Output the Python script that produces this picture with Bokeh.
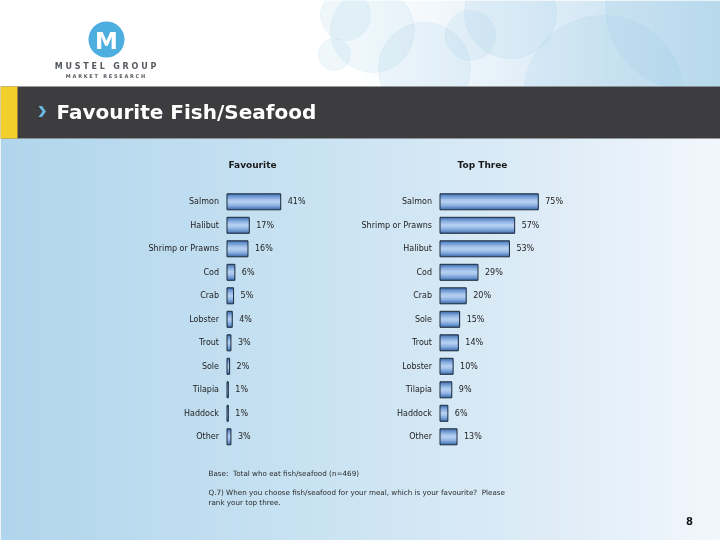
from bokeh.plotting import figure
from bokeh.models import Range1d, ColumnDataSource
from bokeh.core.properties import value
from bokeh.embed import file_html
from bokeh.resources import INLINE

# ---------------- data ----------------
fav_cats = ["Salmon", "Halibut", "Shrimp or Prawns", "Cod", "Crab", "Lobster",
            "Trout", "Sole", "Tilapia", "Haddock", "Other"]
fav_vals = [41, 17, 16, 6, 5, 4, 3, 2, 1, 1, 3]

top_cats = ["Salmon", "Shrimp or Prawns", "Halibut", "Cod", "Crab", "Sole",
            "Trout", "Lobster", "Tilapia", "Haddock", "Other"]
top_vals = [75, 57, 53, 29, 20, 15, 14, 10, 9, 6, 13]

NB = "\u00a0"
panel_titles = ["Favourite", "Top Three"]
slide_title = "Favourite Fish/Seafood"
base_note = "Base:" + NB + NB + "Total who eat fish/seafood (n=469)"
question_lines = ["Q.7) When you choose fish/seafood for your meal, which is your favourite?" + NB + NB + "Please",
                  "rank your top three."]
page_no = "8"
brand = NB.join("MUSTEL") + NB * 3 + NB.join("GROUP")
brand_sub = NB.join("MARKET") + NB * 3 + NB.join("RESEARCH")

# ---------------- layout constants ----------------
W, H = 720, 540
PX_PER_PCT = 1.31
FAV_ZERO = 226.5
TOP_ZERO = 439.5
ROW0 = 201.3
ROW_STEP = 23.5
BAR_PX = 16.0
FONT = value("DejaVu Sans")

p = figure(width=W, height=H, x_range=Range1d(0, W), y_range=Range1d(H, 0),
           output_backend="svg", toolbar_location=None, min_border=0,
           x_axis_location=None, y_axis_location=None)
p.grid.visible = False
p.outline_line_color = None
p.background_fill_color = "white"
p.border_fill_color = "white"
p.styles = {"position": "fixed", "left": "0px", "top": "0px"}

p.extra_x_ranges = {
    "fav": Range1d(-FAV_ZERO / PX_PER_PCT, (W - FAV_ZERO) / PX_PER_PCT),
    "top": Range1d(-TOP_ZERO / PX_PER_PCT, (W - TOP_ZERO) / PX_PER_PCT),
}
p.extra_y_ranges = {"rows": Range1d((H - ROW0) / ROW_STEP, -ROW0 / ROW_STEP)}


def lerp_color(stops, x):
    for (x0, c0), (x1, c1) in zip(stops[:-1], stops[1:]):
        if x0 <= x <= x1:
            t = (x - x0) / (x1 - x0) if x1 > x0 else 0
            c = [round(a + (b - a) * t) for a, b in zip(c0, c1)]
            return "#%02x%02x%02x" % tuple(c)
    c = stops[-1][1]
    return "#%02x%02x%02x" % tuple(c)


STEP = 6
xs = list(range(0, W + STEP, STEP))

# ---------------- header background ----------------
head_stops = [(0, (255, 255, 255)), (360, (255, 255, 255)), (480, (234, 243, 250)),
              (600, (212, 231, 244)), (720, (190, 220, 238))]
hc = [lerp_color(head_stops, x + STEP / 2) for x in xs[:-1]]
p.quad(left=xs[:-1], right=[x + STEP + 1 for x in xs[:-1]], top=0, bottom=86,
       fill_color=hc, line_color=None)

circles = [(345, 15, 25), (334, 54, 16), (372, 30, 42), (424, 68, 46), (470, 35, 25),
           (510, 12, 46), (603, 95, 80), (690, 5, 85)]
p.circle(x=[c[0] for c in circles], y=[c[1] for c in circles], radius=[c[2] for c in circles],
         fill_color="#8ec3e3", fill_alpha=0.14, line_color="#8ec3e3", line_alpha=0.12)

# logo
p.circle(x=[106], y=[39], radius=18, fill_color="#4daee0", line_color=None)
p.text(x=[106], y=[40], text=["M"], text_font=FONT, text_font_size="23px",
       text_font_style="bold", text_color="white", text_align="center", text_baseline="middle")
p.text(x=[105], y=[66], text=[brand], text_font=FONT, text_font_size="8px",
       text_font_style="bold", text_color="#54595f", text_align="center", text_baseline="middle")
p.text(x=[105], y=[75.5], text=[brand_sub], text_font=FONT, text_font_size="5px",
       text_font_style="bold", text_color="#54595f", text_align="center", text_baseline="middle")

# ---------------- body background ----------------
body_stops = [(0, (176, 213, 236)), (300, (200, 226, 242)), (550, (222, 236, 247)),
              (720, (242, 247, 252))]
bc = [lerp_color(body_stops, x + STEP / 2) for x in xs[:-1]]
p.quad(left=xs[:-1], right=[x + STEP + 1 for x in xs[:-1]], top=138, bottom=H,
       fill_color=bc, line_color=None)

# ---------------- title bar ----------------
p.quad(left=[0], right=[W], top=[86], bottom=[138], color="#3d3d3f", line_width=0)
p.quad(left=[0], right=[17], top=[86], bottom=[138], color="#f2cf2c", line_width=0)
p.patch(x=[38, 41.5, 45.5, 41.5, 38, 42], y=[105.5, 105.5, 111, 116.5, 116.5, 111],
        color="#6cb8e0", line_width=0)
p.text(x=[56], y=[111], text=[slide_title], text_font=FONT, text_font_size="20px",
       text_font_style="bold", text_color="white", text_align="left", text_baseline="middle")

# ---------------- panel titles ----------------
p.text(x=[252, 482], y=[164, 164], text=panel_titles, text_font=FONT, text_font_size="9px",
       text_font_style="bold", text_color="#1a1a1a", text_align="center", text_baseline="middle")

# ---------------- bars ----------------
layers = [(1.0, "#4672b0"), (0.84, "#5f8bc6"), (0.68, "#789fd6"), (0.52, "#8fb2e2"),
          (0.34, "#a3c2ea"), (0.16, "#b2cdef")]
bar_h = BAR_PX / ROW_STEP

for cats, vals, xr in [(fav_cats, fav_vals, "fav"), (top_cats, top_vals, "top")]:
    src = ColumnDataSource(dict(row=list(range(len(cats))), cat=cats, val=vals,
                                lab=[f"{v}%" for v in vals]))
    for frac, col in layers:
        p.hbar(y="row", left=0, right="val", height=bar_h * frac, source=src,
               fill_color=col, line_color=None, x_range_name=xr, y_range_name="rows")
    p.hbar(y="row", left=0, right="val", height=bar_h, source=src, fill_alpha=0,
           line_color="#1d2b3a", line_width=1, x_range_name=xr, y_range_name="rows")
    p.text(x=0, y="row", text="cat", source=src, x_offset=-8, text_font=FONT,
           text_font_size="8px", text_color="#222222", text_align="right",
           text_baseline="middle", x_range_name=xr, y_range_name="rows")
    p.text(x="val", y="row", text="lab", source=src, x_offset=7, text_font=FONT,
           text_font_size="8px", text_color="#222222", text_align="left",
           text_baseline="middle", x_range_name=xr, y_range_name="rows")

# ---------------- footnotes ----------------
p.text(x=[208], y=[473], text=[base_note], text_font=FONT, text_font_size="7.2px",
       text_color="#2a2a2a", text_align="left", text_baseline="middle")
p.text(x=[208, 208], y=[492, 502], text=question_lines, text_font=FONT, text_font_size="7.2px",
       text_color="#2a2a2a", text_align="left", text_baseline="middle")
p.text(x=[689], y=[520], text=[page_no], text_font=FONT, text_font_size="10px",
       text_font_style="bold", text_color="#111111", text_align="center", text_baseline="middle")

open("out.html", "w").write(file_html(p, INLINE))
